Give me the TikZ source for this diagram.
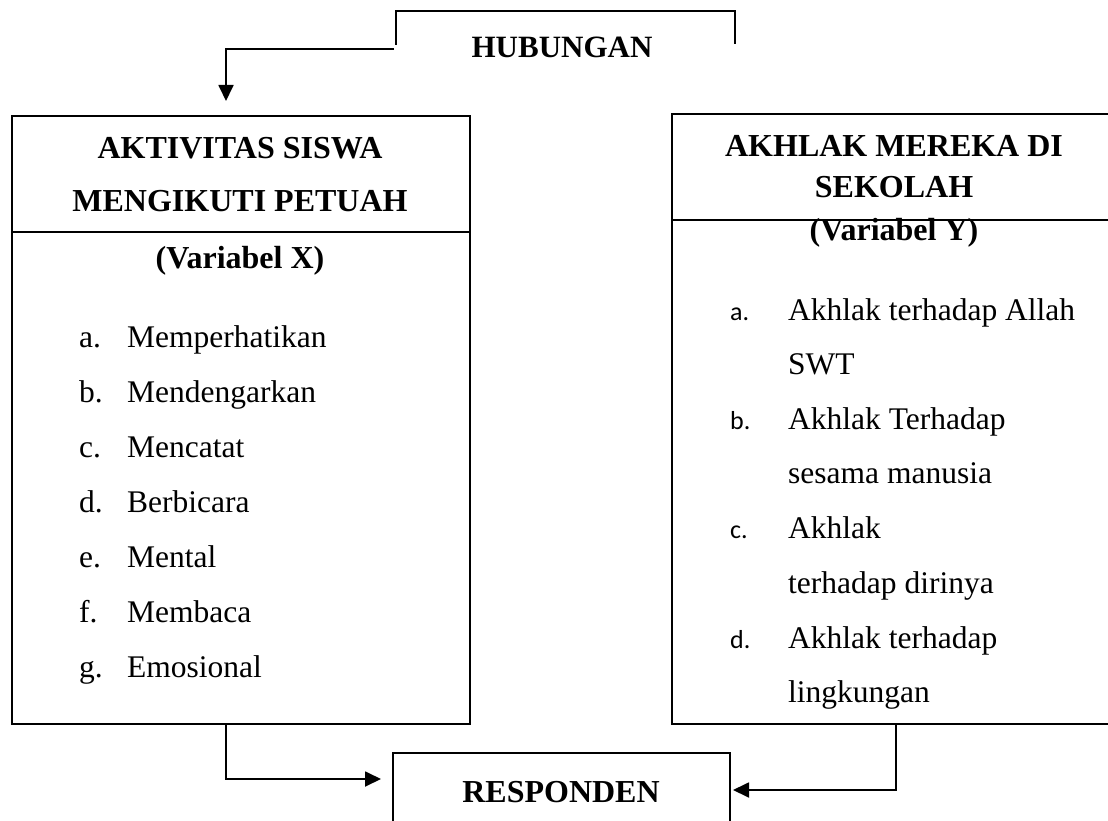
\documentclass[tikz,border=0pt]{standalone}
\usepackage{fontspec}
\setmainfont{Liberation Serif}
\newfontfamily\calfont{Carlito}
\usetikzlibrary{arrows.meta}
\begin{document}
\begin{tikzpicture}[x=1pt,y=-1pt,
  frame/.style={draw, line width=1.8pt, inner sep=0pt, outer sep=0pt},
  wire/.style={line width=1.8pt},
  conn/.style={line width=1.8pt, -{Triangle[length=16pt,width=15pt]}},
  title/.style={font=\fontsize{32}{38}\selectfont\bfseries, inner sep=0pt},
  item/.style={font=\fontsize{31.5}{37}\selectfont, inner sep=0pt, anchor=mid west},
  clbl/.style={font=\calfont\fontsize{26}{30}\selectfont, inner sep=0pt, anchor=mid west}]
\clip (0,0) rectangle (1108,821);
\fill[white] (0,0) rectangle (1108,821);

% HUBUNGAN
\node[title, font=\fontsize{31}{37}\selectfont\bfseries] (hub) at (562,47) {HUBUNGAN};
\draw[wire] (396,45) |- (735,11) -- (735,44);
\coordinate (hubL) at (394,49);
\coordinate (xin) at (226,101);
\draw[conn] (hubL) -| (xin);

% Left box (Variabel X)
\node[frame, anchor=north west, minimum width=458pt, minimum height=608pt] (X) at (12,116) {};
\coordinate (xdivL) at (12,232);
\coordinate (xdivR) at (470,232);
\draw[wire] (xdivL) -- (xdivR);
\node[title] (x1) at (240,148) {AKTIVITAS SISWA};
\node[title] (x2) at (240,201) {MENGIKUTI PETUAH};
\node[title] (x3) at (240,261) {(Variabel X)};
\foreach \l/\t [count=\i from 0] in {a./Memperhatikan, b./Mendengarkan, c./Mencatat, d./Berbicara, e./Mental, f./Membaca, g./Emosional}{
  \node[item] (xl\i) at (79,{345+55*\i}) {\l};
  \node[item] (xt\i) at (127,{345+55*\i}) {\t};
}

% Right box (Variabel Y)
\node[frame, anchor=north west, minimum width=444pt, minimum height=610pt] (Y) at (672,114) {};
\coordinate (ydivL) at (672,220);
\coordinate (ydivR) at (1116,220);
\draw[wire] (ydivL) -- (ydivR);
\node[title] (y1) at (894,146) {AKHLAK MEREKA DI};
\node[title] (y2) at (894,187) {SEKOLAH};
\node[title] (y3) at (894,233) {(Variabel Y)};
\node[clbl] (yl1) at (730,318) {a.};
\node[item] (yt1) at (788,318) {Akhlak terhadap Allah};
\node[item] (yt1b) at (788,372) {SWT};
\node[clbl] (yl2) at (730,427) {b.};
\node[item] (yt2) at (788,427) {Akhlak Terhadap};
\node[item] (yt2b) at (788,481) {sesama manusia};
\node[clbl] (yl3) at (730,536) {c.};
\node[item] (yt3) at (788,536) {Akhlak};
\node[item] (yt3b) at (788,591) {terhadap dirinya};
\node[clbl] (yl4) at (730,646) {d.};
\node[item] (yt4) at (788,646) {Akhlak terhadap};
\node[item] (yt4b) at (788,700) {lingkungan};

% RESPONDEN
\node[frame, anchor=north west, minimum width=337pt, minimum height=100pt] (R) at (393,753) {};
\node[title] (rt) at (561,792) {RESPONDEN};

% connectors to RESPONDEN
\coordinate (xout) at (226,724);
\coordinate (rin1) at (381,779);
\draw[conn] (xout) |- (rin1);
\coordinate (yout) at (896,724);
\coordinate (rin2) at (733,790);
\draw[conn] (yout) |- (rin2);
\end{tikzpicture}
\end{document}
